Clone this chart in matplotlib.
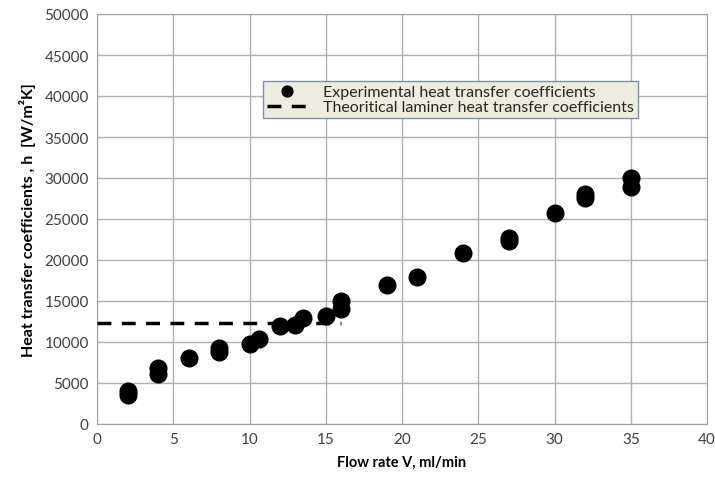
import matplotlib.pyplot as plt

# experimental points (flow rate ml/min, h W/m2K)
flow_rate = [2, 2, 4, 4, 6, 8, 8, 10, 10.6, 12, 13, 13.5, 15, 16, 16,
             19, 21, 24, 27, 27, 30, 32, 32, 35, 35]
h_exp = [3500, 4000, 6100, 6800, 8000, 8800, 9300, 9700, 10400, 11900, 12100,
         12900, 13200, 14000, 15000, 17000, 17900, 20800, 22300, 22700,
         25700, 27600, 28000, 28900, 30000]

# theoretical laminar value
theory_x = [0, 16]
theory_h = [12300, 12300]

plt.rcParams['font.family'] = ['Lato', 'DejaVu Sans']

fig = plt.figure(figsize=(7.15, 4.81), dpi=100)
ax = fig.add_axes([97 / 715, 56 / 481, 610 / 715, 410 / 481])

ax.plot(theory_x, theory_h, color='black', linestyle=(0, (4, 3)), linewidth=2.5,
        label='Theoritical laminer heat transfer coefficients', zorder=3)
ax.plot(flow_rate, h_exp, 'o', color='black', markersize=12, linestyle='none',
        label='Experimental heat transfer coefficients', zorder=4)

ax.set_xlim(0, 40)
ax.set_ylim(0, 50000)
ax.set_xticks(range(0, 41, 5))
ax.set_yticks(range(0, 50001, 5000))
ax.grid(True, color='#b0b0b0', linewidth=1)
ax.set_axisbelow(True)
for s in ax.spines.values():
    s.set_color('#a0a0a0')
ax.tick_params(length=0, labelsize=11, colors='#404040', pad=6)

ax.set_xlabel('Flow rate V, ml/min', fontsize=10.5, fontweight='bold', labelpad=6)
ax.set_ylabel('Heat transfer coefficients , h  [W/m²K]', fontsize=11.5,
              fontweight='bold', labelpad=6)

handles, labels = ax.get_legend_handles_labels()
leg = ax.legend(handles[::-1], labels[::-1], loc='upper left',
                bbox_to_anchor=(166 / 610, 1 - 67 / 410), fontsize=11.5,
                fancybox=False, framealpha=1, borderpad=0.25, labelspacing=0.05,
                handlelength=2.5, handletextpad=1.0, borderaxespad=0,
                markerscale=0.65)
leg.get_frame().set_facecolor('#eeece1')
leg.get_frame().set_edgecolor('#7f8fa6')
for t in leg.get_texts():
    t.set_color('#262626')

fig.savefig('out.png', dpi=100)
